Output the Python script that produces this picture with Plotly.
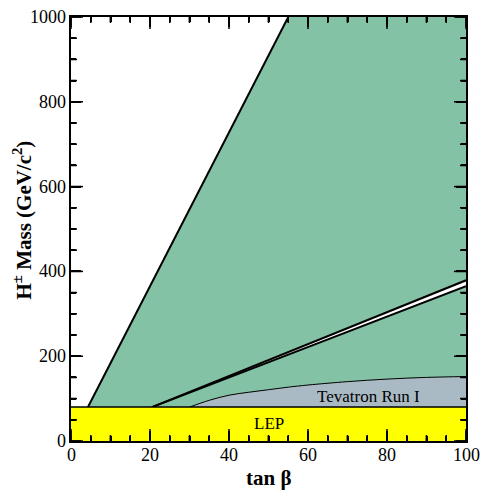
import plotly.graph_objects as go

# Data (tan beta, H+ mass in GeV/c^2)
lep_limit = 80
x_range = [0, 100]
y_range = [0, 1000]

x_major = [0, 20, 40, 60, 80, 100]
x_minor = [5, 10, 15, 25, 30, 35, 45, 50, 55, 65, 70, 75, 85, 90, 95]
y_major = [0, 200, 400, 600, 800, 1000]
y_minor = [50, 100, 150, 250, 300, 350, 450, 500, 550, 650, 700, 750, 850, 900, 950]

left_edge_tanb = [4.3, 55.0]
left_edge_mass = [80, 1000]

band_upper_tanb = [20.5, 100]
band_upper_mass = [80, 379]
band_lower_tanb = [20.5, 100]
band_lower_mass = [80, 365]

tev_tanb = [30, 35, 40, 45, 50, 55, 60, 70, 80, 90, 100]
tev_mass = [80, 96, 108, 115, 121, 127, 132, 140, 146, 150, 152]

GREEN = "#84c2a5"
GREY = "#aabac4"
YELLOW = "#ffff00"
FONT = "Liberation Serif"

W, H = 482, 491
ML, MR, MT, MB = 71, 16, 17, 50
PLOT_W, PLOT_H = W - ML - MR, H - MT - MB
XU = (x_range[1] - x_range[0]) / PLOT_W   # data units per pixel
YU = (y_range[1] - y_range[0]) / PLOT_H

fig = go.Figure()

gx = [left_edge_tanb[0], left_edge_tanb[1], x_range[1], x_range[1], left_edge_tanb[0]]
gy = [left_edge_mass[0], left_edge_mass[1], y_range[1], lep_limit, left_edge_mass[0]]
fig.add_trace(go.Scatter(x=gx, y=gy, fill="toself", fillcolor=GREEN, mode="lines",
                         line=dict(width=0), hoverinfo="skip", showlegend=False))
fig.add_trace(go.Scatter(x=left_edge_tanb, y=left_edge_mass, mode="lines",
                         line=dict(color="black", width=2), showlegend=False))

tx = tev_tanb + [tev_tanb[-1], tev_tanb[0]]
ty = tev_mass + [lep_limit, lep_limit]
fig.add_trace(go.Scatter(x=tx, y=ty, fill="toself", fillcolor=GREY, mode="lines",
                         line=dict(width=0), hoverinfo="skip", showlegend=False))
fig.add_trace(go.Scatter(x=tev_tanb, y=tev_mass, mode="lines", line_shape="spline",
                         line=dict(color="black", width=1), showlegend=False))

bx = band_upper_tanb + band_lower_tanb[::-1]
by = band_upper_mass + band_lower_mass[::-1]
fig.add_trace(go.Scatter(x=bx, y=by, fill="toself", fillcolor="white", mode="lines",
                         line=dict(width=0), hoverinfo="skip", showlegend=False))
fig.add_trace(go.Scatter(x=band_upper_tanb, y=band_upper_mass, mode="lines",
                         line=dict(color="black", width=2), showlegend=False))
fig.add_trace(go.Scatter(x=band_lower_tanb, y=band_lower_mass, mode="lines",
                         line=dict(color="black", width=2), showlegend=False))

fig.add_trace(go.Scatter(x=[x_range[0], x_range[1], x_range[1], x_range[0], x_range[0]],
                         y=[0, 0, lep_limit, lep_limit, 0], fill="toself", fillcolor=YELLOW,
                         mode="lines", line=dict(width=0), hoverinfo="skip", showlegend=False))
fig.add_trace(go.Scatter(x=x_range, y=[lep_limit, lep_limit], mode="lines",
                         line=dict(color="black", width=1.5), showlegend=False))

# ticks (inside, on all four sides) built from the tick value lists
tkx, tky = [], []
for v, ln in [(t, 10) for t in x_major] + [(t, 5) for t in x_minor]:
    tkx += [v, v, None, v, v, None]
    tky += [y_range[0], y_range[0] + ln * YU, None, y_range[1], y_range[1] - ln * YU, None]
for v, ln in [(t, 10) for t in y_major] + [(t, 5) for t in y_minor]:
    tkx += [x_range[0], x_range[0] + ln * XU, None, x_range[1], x_range[1] - ln * XU, None]
    tky += [v, v, None, v, v, None]
fig.add_trace(go.Scatter(x=tkx, y=tky, mode="lines", line=dict(color="black", width=1.5),
                         connectgaps=False, hoverinfo="skip", showlegend=False))

# the same ticks drawn as line markers
for vals, ln in [(x_major, 10), (x_minor, 5)]:
    mx = vals + vals
    my = [y_range[0] + ln / 2 * YU] * len(vals) + [y_range[1] - ln / 2 * YU] * len(vals)
    fig.add_trace(go.Scatter(x=mx, y=my, mode="markers", hoverinfo="skip", showlegend=False,
                             marker=dict(symbol="line-ns", size=ln, color="black",
                                         line=dict(color="black", width=1.5))))
for vals, ln in [(y_major, 10), (y_minor, 5)]:
    my = vals + vals
    mx = [x_range[0] + ln / 2 * XU] * len(vals) + [x_range[1] - ln / 2 * XU] * len(vals)
    fig.add_trace(go.Scatter(x=mx, y=my, mode="markers", hoverinfo="skip", showlegend=False,
                             marker=dict(symbol="line-ew", size=ln, color="black",
                                         line=dict(color="black", width=1.5))))

fig.add_annotation(x=50, y=42, text="LEP", showarrow=False,
                   font=dict(family=FONT, size=17, color="black"))
fig.add_annotation(x=75.2, y=104, text="Tevatron Run I", showarrow=False,
                   font=dict(family=FONT, size=17, color="black"))

# tick labels
for v in x_major:
    fig.add_annotation(x=v, y=0, xref="x", yref="paper", yanchor="top", xanchor="center",
                       yshift=-2, text=str(v), showarrow=False,
                       font=dict(family=FONT, size=18, color="black"))
for v in y_major:
    fig.add_annotation(x=0, y=v, xref="paper", yref="y", xanchor="right", yanchor="middle",
                       xshift=-3, text=str(v), showarrow=False,
                       font=dict(family=FONT, size=18, color="black"))

# axis titles
fig.add_annotation(x=0.5, y=0, xref="paper", yref="paper", yanchor="middle",
                   yshift=-37, text="<b>tan β</b>", showarrow=False,
                   font=dict(family=FONT, size=21, color="black"))
fig.add_annotation(x=0, y=0.52, xref="paper", yref="paper", xanchor="center",
                   yanchor="middle", xshift=-48, textangle=-90,
                   text="<b>H<sup>±</sup> Mass (GeV/c<sup>2</sup>)</b>", showarrow=False,
                   font=dict(family=FONT, size=21, color="black"))

axis_common = dict(showgrid=False, zeroline=False, showline=True, linecolor="black",
                   linewidth=1.5, mirror="allticks", ticks="inside", ticklen=10,
                   tickwidth=1.5, tickcolor="black", showticklabels=False,
                   automargin=False)
fig.update_xaxes(range=x_range, tickmode="array", tickvals=x_major,
                 minor=dict(tickmode="array", tickvals=x_minor, ticks="inside",
                            ticklen=5, tickwidth=1.5, tickcolor="black"),
                 **axis_common)
fig.update_yaxes(range=y_range, tickmode="array", tickvals=y_major,
                 minor=dict(tickmode="array", tickvals=y_minor, ticks="inside",
                            ticklen=5, tickwidth=1.5, tickcolor="black"),
                 **axis_common)

fig.update_layout(
    width=W, height=H, margin=dict(l=ML, r=MR, t=MT, b=MB, autoexpand=False),
    plot_bgcolor="white", paper_bgcolor="white", showlegend=False,
    font=dict(family=FONT, size=17, color="black"),
)

fig.write_html("out.html")
